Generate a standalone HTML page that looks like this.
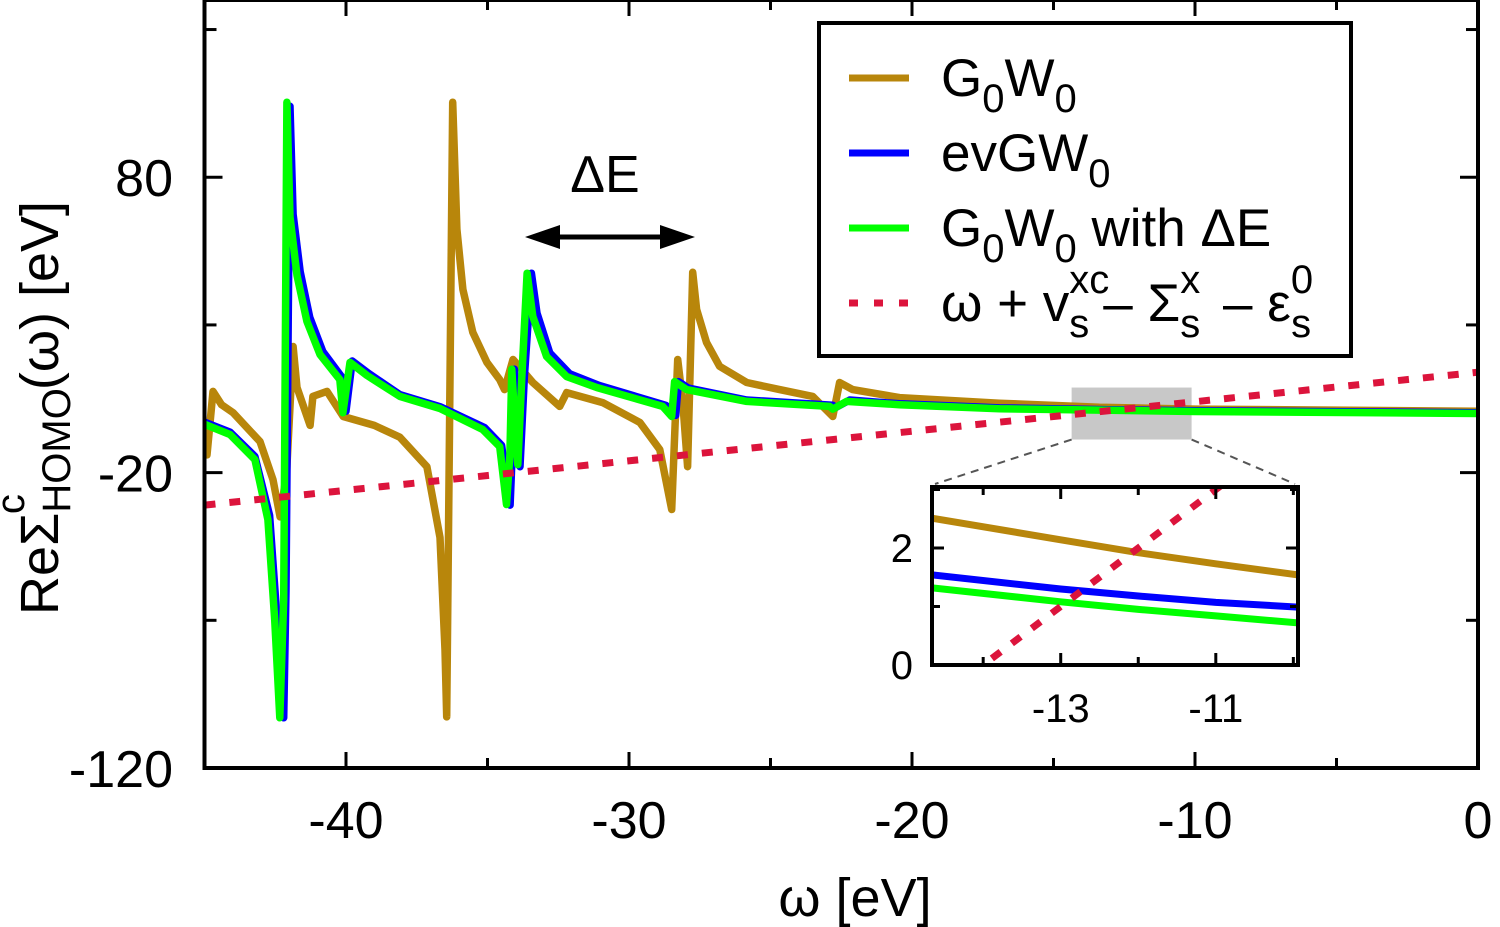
<!DOCTYPE html>
<html><head><meta charset="utf-8"><style>
html,body{margin:0;padding:0;background:#fff;}
svg{display:block;font-family:"Liberation Sans",sans-serif;}
</style></head><body>
<svg id="chart" width="1500" height="927" viewBox="0 0 1500 927" xmlns="http://www.w3.org/2000/svg"></svg>
<script>
// ---- main chart data (omega in eV, Re Sigma in eV) ----
const goldX = [-45,-44.91,-44.7,-44.4,-43.99,-43.04,-42.58,-42.33,-42.1,-41.87,-41.73,-41.27,-41.17,-40.67,-40.1,-39,-38.1,-37.14,-36.68,-36.5,-36.44,-36.23,-36.08,-35.87,-35.52,-35.02,-34.57,-34.4,-34.1,-33.4,-32.45,-32.2,-30.93,-29.62,-28.91,-28.49,-28.28,-28.1,-27.93,-27.75,-27.61,-27.26,-26.8,-25.84,-24.68,-23.51,-22.8,-22.56,-22.1,-20.44,-16.91,-13.38,-10,0];
const goldY = [-6.8,-14,7.5,3,0.3,-9.5,-22.4,-35,-20,22.7,8.8,-4,5.8,7.5,-1,-4,-8,-18,-42,-80,-102.7,105.4,62.4,42,27.5,17.3,11.5,8.1,18.3,10.5,2.4,7.1,3.7,-3,-12.2,-32.5,18.3,3.7,-18,47.8,35.3,24.1,16,10.5,8.1,5.8,-1,10.5,8.1,5.4,3.5,2.1,1.5,0.8];
const greenX = [-44.98,-44.1,-43.22,-42.76,-42.52,-42.34,-42.2,-42.09,-41.98,-41.73,-41.38,-40.92,-40.22,-40.11,-39.86,-39.26,-38.1,-36.68,-35.17,-34.57,-34.33,-34.21,-34.14,-34.04,-33.93,-33.79,-33.6,-33.4,-32.91,-32.2,-31.14,-28.81,-28.49,-28.39,-27.96,-25.84,-22.91,-22.8,-22.31,-20.44,-16.91,-13,-10,0];
const greenY = [-3.7,-7.1,-15.6,-35.9,-69.8,-103,-63,105.4,66.6,46.8,31.2,20,11.5,0.3,17.3,12.9,5.8,1.7,-5.4,-11.2,-30.8,-13.9,15,-2,-17.3,11.5,47.5,32.9,19.3,12.5,8.8,2.4,-1,10.8,8.1,4.1,2.4,1.5,4.1,3,1.6,1.1,0.7,0];
const blueX = [-44.98,-44.1,-43.22,-42.7,-42.45,-42.2,-42.12,-41.98,-41.87,-41.62,-41.28,-40.82,-40.12,-40.0,-39.78,-39.2,-38.1,-36.68,-35.1,-34.5,-34.2,-34.12,-34.05,-33.98,-33.85,-33.7,-33.45,-33.25,-32.8,-32.1,-31.05,-28.7,-28.35,-28.25,-27.9,-25.84,-22.8,-22.7,-22.2,-20.44,-16.91,-13,-10,0];
const blueY = [-3,-6.3,-14.5,-34.5,-68,-103,-60,104,67.5,48,32.5,21,12,0.8,17.8,13.6,6.4,2.3,-4.8,-10.8,-31,-12,15,-1,-18,12,47.5,34,20.5,13.5,9.5,2.8,-0.6,10.8,8.6,4.6,2.8,2,4.6,3.3,1.9,1.3,0.95,0.3];
const refX = [-45, 0];
const refY = [-31, 14];
const xTicks = [-40,-30,-20,-10,0];
const xTickLabels = ["-40","-30","-20","-10","0"];
const yTicks = [80,-20,-120];
const yTickLabels = ["80","-20","-120"];
// ---- inset data ----
const insetX = [-14.66,-13,-12,-11,-9.94];
const insetGold = [2.51,2.14,1.92,1.73,1.54];
const insetBlue = [1.54,1.3,1.18,1.07,0.99];
const insetGreen = [1.32,1.08,0.95,0.84,0.72];
const insetRefX = [-14.66,-9.94];
const insetRefY = [-0.66,4.06];
const insetXTicks = [-13,-11];
const insetYTicks = [0,2];

const NS = "http://www.w3.org/2000/svg";
const svg = document.getElementById('chart');
function mk(tag, attrs, parent){const e=document.createElementNS(NS,tag);for(const k in attrs)e.setAttribute(k,attrs[k]);(parent||svg).appendChild(e);return e;}

const X0=204.5,X1=1478;
const xs = v => X0 + (v+45)/45*(X1-X0);
const ys = v => 768 - (v+120)/260*768;
const IX0=932,IX1=1298,IY0=665,IY1=487;
const ixs = v => IX0 + (v+14.66)/4.72*(IX1-IX0);
const iys = v => IY0 - v/3.043*(IY0-IY1);

const defs = mk('defs',{});
const cp = mk('clipPath',{id:'clipMain'},defs); mk('rect',{x:X0,y:0,width:X1-X0,height:768},cp);
const cpi = mk('clipPath',{id:'clipInset'},defs); mk('rect',{x:IX0,y:IY1,width:IX1-IX0,height:IY0-IY1},cpi);

function pathD(xa,ya,fx,fy){return xa.map((x,i)=>(i?'L':'M')+fx(x).toFixed(1)+','+fy(ya[i]).toFixed(1)).join('');}

const gMain = mk('g',{'clip-path':'url(#clipMain)'});



let zr = mk('rect',{x:xs(-14.36),y:ys(8.8),width:xs(-10.12)-xs(-14.36),height:ys(-8.8)-ys(8.8),fill:'#c8c8c8'},gMain);



let p;
p = mk('path',{d:pathD(goldX,goldY,xs,ys),fill:'none',stroke:'#b8860b',"stroke-width":7.5,"stroke-linejoin":'round'},gMain);


p = mk('path',{d:pathD(blueX,blueY,xs,ys),fill:'none',stroke:'#0000ff',"stroke-width":7.5,"stroke-linejoin":'round'},gMain);


p = mk('path',{d:pathD(greenX,greenY,xs,ys),fill:'none',stroke:'#00ff00',"stroke-width":7.5,"stroke-linejoin":'round'},gMain);


p = mk('path',{d:pathD(refX,refY,xs,ys),fill:'none',stroke:'#dc143c',"stroke-width":7,"stroke-dasharray":'11,14'},gMain);



p = mk('line',{x1:xs(-14.36),y1:ys(-8.8),x2:IX0+3,y2:IY1-3,stroke:'#555',"stroke-width":2,"stroke-dasharray":'8,6'});


p = mk('line',{x1:xs(-10.12),y1:ys(-8.8),x2:IX1-3,y2:IY1-3,stroke:'#555',"stroke-width":2,"stroke-dasharray":'8,6'});



p = mk('rect',{x:X0,y:0,width:X1-X0,height:768,fill:'none',stroke:'#000',"stroke-width":4});


for(let v=-45;v<=0;v+=5){
  const len = (v%10===0)?16:10;
  mk('line',{x1:xs(v),y1:768,x2:xs(v),y2:768-len,stroke:'#000',"stroke-width":3});
  mk('line',{x1:xs(v),y1:0,x2:xs(v),y2:len,stroke:'#000',"stroke-width":3});
}
xTicks.forEach((v,i)=>{
  const t=mk('text',{x:xs(v),y:838,"text-anchor":'middle',"font-size":52,fill:'#000'});
  t.textContent=xTickLabels[i];
  
  
});
for(let v=-120;v<=130;v+=50){
  const len = ((v+120)%100===0)?18:12;
  mk('line',{x1:X0,y1:ys(v),x2:X0+len,y2:ys(v),stroke:'#000',"stroke-width":3});
  mk('line',{x1:X1,y1:ys(v),x2:X1-len,y2:ys(v),stroke:'#000',"stroke-width":3});
}
yTicks.forEach((v,i)=>{
  const t=mk('text',{x:173,y:ys(v)+19,"text-anchor":'end',"font-size":52,fill:'#000'});
  t.textContent=yTickLabels[i];
  
  
});
let t = mk('text',{x:855,y:916,"text-anchor":'middle',"font-size":54,fill:'#000'});
t.textContent='ω [eV]';


t = mk('text',{x:0,y:0,"font-size":54,fill:'#000',transform:'translate(58,615) rotate(-90)'});
t.innerHTML='ReΣ<tspan font-size="40" dy="12">HOMO</tspan><tspan font-size="40" dx="-126" dy="-46">c</tspan><tspan dx="104" dy="34">(ω) [eV]</tspan>';



t = mk('text',{x:605,y:192,"text-anchor":'middle',"font-size":52,fill:'#000'});
t.textContent='ΔE';


const ag = mk('g',{});


mk('line',{x1:550,y1:237,x2:670,y2:237,stroke:'#000',"stroke-width":5},ag);
mk('polygon',{points:'525,237 560,225 560,249',fill:'#000'},ag);
mk('polygon',{points:'695,237 660,225 660,249',fill:'#000'},ag);

const lg = mk('g',{});


mk('rect',{x:819,y:23,width:532,height:333,fill:'#fff',stroke:'#000',"stroke-width":4},lg);
const legY=[78,153,228,303];
const legC=['#b8860b','#0000ff','#00ff00','#dc143c'];
const legT=['G<tspan font-size="40" dy="16">0</tspan><tspan dy="-16">W</tspan><tspan font-size="40" dy="16">0</tspan>',
 'evGW<tspan font-size="40" dy="16">0</tspan>',
 'G<tspan font-size="40" dy="16">0</tspan><tspan dy="-16">W</tspan><tspan font-size="40" dy="16">0</tspan><tspan dy="-16"> with ΔE</tspan>',
 'ω + v<tspan font-size="40" dy="-28">xc</tspan><tspan font-size="40" dx="-40" dy="44">s</tspan><tspan dx="14" dy="-16">– Σ</tspan><tspan font-size="40" dy="-28">x</tspan><tspan font-size="40" dx="-20" dy="44">s</tspan><tspan dx="8" dy="-16"> – ε</tspan><tspan font-size="40" dy="-28">0</tspan><tspan font-size="40" dx="-22" dy="44">s</tspan>'];
const legN=['legend-entry-g0w0','legend-entry-evgw0','legend-entry-g0w0-delta-e','legend-entry-reference'];
legY.forEach((y,i)=>{
  const eg=mk('g',{},lg);
  
  
  const a={x1:849,y1:y,x2:909,y2:y,stroke:legC[i],"stroke-width":7};
  if(i===3)a["stroke-dasharray"]='9,16';
  mk('line',a,eg);
  const tt=mk('text',{x:941,y:y+18,"font-size":53,fill:'#000'},eg);
  tt.innerHTML=legT[i];
});

const ig = mk('g',{});


mk('rect',{x:IX0,y:IY1,width:IX1-IX0,height:IY0-IY1,fill:'#fff'},ig);
const igc = mk('g',{'clip-path':'url(#clipInset)'},ig);
p=mk('path',{d:pathD(insetX,insetGold,ixs,iys),fill:'none',stroke:'#b8860b',"stroke-width":7},igc);


p=mk('path',{d:pathD(insetX,insetBlue,ixs,iys),fill:'none',stroke:'#0000ff',"stroke-width":7},igc);


p=mk('path',{d:pathD(insetX,insetGreen,ixs,iys),fill:'none',stroke:'#00ff00',"stroke-width":7},igc);


p=mk('path',{d:pathD(insetRefX,insetRefY,ixs,iys),fill:'none',stroke:'#dc143c',"stroke-width":7,"stroke-dasharray":'11,14'},igc);


mk('rect',{x:IX0,y:IY1,width:IX1-IX0,height:IY0-IY1,fill:'none',stroke:'#000',"stroke-width":4},ig);
for(let v=-14;v<=-10;v+=1){
  const len=(v===-13||v===-11)?12:8;
  mk('line',{x1:ixs(v),y1:IY0,x2:ixs(v),y2:IY0-len,stroke:'#000',"stroke-width":3},ig);
  mk('line',{x1:ixs(v),y1:IY1,x2:ixs(v),y2:IY1+len,stroke:'#000',"stroke-width":3},ig);
}
insetXTicks.forEach(v=>{
  const tt=mk('text',{x:ixs(v),y:722,"text-anchor":'middle',"font-size":40,fill:'#000'},ig);
  tt.textContent=String(v);
  
  
});
[0,1,2,3].forEach(v=>{
  const len=(v%2===0)?12:8;
  mk('line',{x1:IX0,y1:iys(v),x2:IX0+len,y2:iys(v),stroke:'#000',"stroke-width":3},ig);
  mk('line',{x1:IX1,y1:iys(v),x2:IX1-len,y2:iys(v),stroke:'#000',"stroke-width":3},ig);
});
insetYTicks.forEach(v=>{
  const tt=mk('text',{x:913,y:iys(v)+14,"text-anchor":'end',"font-size":40,fill:'#000'},ig);
  tt.textContent=String(v);
  
  
});
</script>
</body></html>
